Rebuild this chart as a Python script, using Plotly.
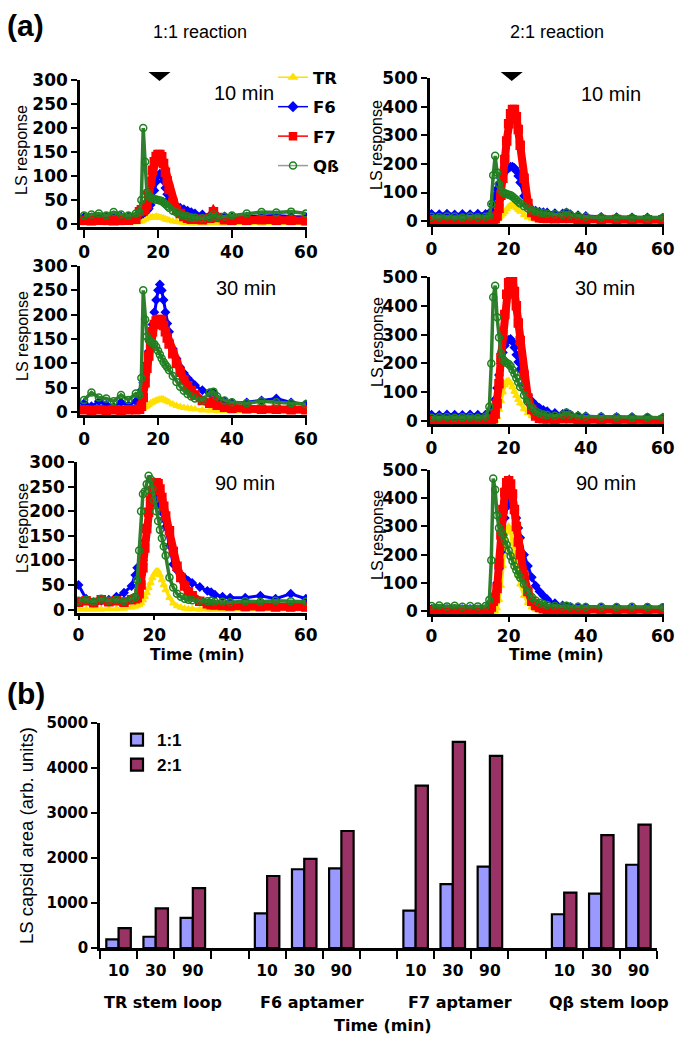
import plotly.graph_objects as go

W, H = 684, 1050

# elution time grid (min), shared by all chromatograms
T = [0, 2, 4, 6, 8, 10, 12, 14, 15, 15.5, 16, 16.5, 17, 17.5, 18, 18.5, 19, 19.5,
     20, 20.5, 21, 21.5, 22, 22.5, 23, 24, 25, 26, 27, 28, 29, 30, 32, 34, 35, 36,
     38, 40, 44, 48, 52, 56, 60]

# 1:1 reaction, 10 min
tr_11_10 = [2, 2, 3, 2, 3, 2, 3, 4, 5, 6, 8, 10, 12, 13, 14, 15, 14, 16, 15, 14, 13, 12, 10, 9, 8,
            6, 5, 4, 3, 3, 2, 2, 2, 2, 3, 2, 2, 2, 2, 2, 2, 2, 2]
f6_11_10 = [15, 14, 16, 15, 14, 16, 15, 17, 18, 20, 22, 25, 28, 32, 40, 55, 70, 88, 100, 105, 100, 90, 75, 62, 52,
            42, 38, 34, 31, 28, 25, 22, 20, 18, 22, 17, 16, 15, 16, 17, 18, 16, 15]
f7_11_10 = [8, 7, 8, 8, 7, 8, 8, 10, 26, 30, 28, 32, 40, 62, 88, 112, 130, 141, 145, 145, 140, 126, 108, 90, 72,
            45, 30, 22, 16, 12, 10, 10, 9, 12, 26, 14, 9, 8, 8, 9, 8, 8, 7]
qb_11_10 = [18, 20, 22, 18, 25, 20, 18, 22, 25, 50, 200, 130, 66, 58, 56, 54, 52, 51, 50, 49, 48, 45, 42, 38, 34,
            28, 24, 20, 18, 16, 14, 13, 12, 14, 20, 15, 16, 18, 22, 25, 24, 26, 22]

# 2:1 reaction, 10 min
tr_21_10 = [0, 0, 0, 0, 0, 0, 0, 0, 0, 0, 1, 3, 8, 12, 18, 25, 32, 42, 50, 55, 56, 52, 46, 40, 34,
            22, 14, 9, 6, 4, 3, 2, 1, 1, 2, 1, 1, 1, 0, 0, 0, 0, 0]
f6_21_10 = [25, 24, 26, 23, 25, 24, 26, 25, 28, 35, 60, 90, 112, 130, 150, 162, 172, 180, 186, 190, 190, 186, 175, 158, 135,
            88, 55, 42, 36, 33, 31, 30, 28, 27, 30, 24, 21, 18, 15, 14, 13, 13, 12]
f7_21_10 = [5, 4, 5, 4, 5, 4, 5, 4, 4, 4, 5, 8, 18, 45, 90, 150, 215, 280, 340, 375, 390, 390, 365, 320, 265,
            150, 62, 30, 18, 12, 10, 9, 8, 9, 16, 9, 7, 6, 6, 6, 5, 5, 5]
qb_21_10 = [15, 14, 16, 15, 13, 16, 14, 15, 18, 60, 160, 228, 170, 130, 108, 100, 97, 95, 92, 90, 86, 80, 74, 68, 62,
            52, 44, 38, 34, 30, 28, 26, 24, 22, 30, 22, 18, 15, 13, 12, 12, 11, 12]

# 1:1 reaction, 30 min
tr_11_30 = [1, 2, 1, 2, 1, 2, 2, 3, 5, 6, 8, 10, 12, 15, 18, 20, 22, 24, 25, 26, 27, 26, 24, 22, 20,
            16, 13, 11, 9, 8, 7, 6, 4, 3, 5, 2, 2, 1, 1, 1, 1, 1, 1]
f6_11_30 = [18, 12, 22, 15, 10, 20, 14, 22, 30, 45, 60, 80, 100, 125, 150, 180, 205, 230, 250, 262, 250, 230, 205, 182, 165,
            130, 110, 92, 80, 70, 62, 55, 45, 38, 40, 28, 22, 18, 20, 24, 28, 20, 16]
f7_11_30 = [5, 4, 5, 4, 5, 4, 5, 5, 6, 12, 30, 60, 90, 115, 140, 165, 180, 187, 190, 190, 188, 178, 165, 152, 140,
            120, 100, 82, 66, 54, 44, 35, 24, 18, 22, 14, 10, 8, 7, 6, 6, 5, 5]
qb_11_30 = [25, 40, 30, 28, 22, 35, 25, 38, 35, 70, 250, 190, 155, 148, 145, 142, 140, 134, 126, 118, 110, 103, 97, 92, 86,
            74, 62, 52, 44, 37, 32, 28, 24, 40, 42, 32, 24, 20, 18, 22, 20, 18, 16]

# 2:1 reaction, 30 min
tr_21_30 = [0, 0, 0, 0, 0, 0, 0, 0, 0, 0, 0, 2, 15, 40, 70, 100, 125, 138, 140, 132, 118, 102, 88, 74, 62,
            42, 28, 18, 12, 8, 5, 4, 2, 1, 2, 1, 0, 0, 0, 0, 0, 0, 0]
f6_21_30 = [22, 21, 23, 22, 21, 23, 22, 22, 24, 30, 45, 75, 115, 160, 200, 238, 262, 276, 282, 285, 275, 255, 230, 205, 180,
            130, 90, 70, 56, 46, 39, 34, 28, 25, 28, 22, 19, 17, 15, 14, 14, 13, 12]
f7_21_30 = [3, 3, 3, 3, 3, 3, 3, 3, 3, 4, 8, 25, 60, 130, 220, 300, 370, 440, 480, 495, 490, 450, 400, 340, 280,
            160, 80, 40, 18, 10, 8, 7, 6, 8, 16, 8, 5, 5, 5, 5, 4, 4, 4]
qb_21_30 = [12, 13, 14, 12, 13, 14, 12, 15, 50, 200, 430, 470, 360, 290, 235, 215, 208, 202, 198, 190, 178, 165, 150, 135, 118,
            90, 66, 48, 34, 27, 23, 21, 19, 22, 30, 22, 18, 16, 15, 14, 13, 13, 12]

# 1:1 reaction, 90 min
tr_11_90 = [0, 0, 0, 0, 1, 1, 2, 4, 6, 8, 10, 13, 19, 26, 34, 44, 54, 64, 72, 78, 78, 70, 60, 50, 40,
            24, 13, 7, 4, 2, 1, 1, 0, 0, 0, 0, 0, 0, 0, 0, 0, 0, 0]
f6_11_90 = [50, 22, 15, 18, 20, 26, 34, 48, 70, 85, 75, 70, 100, 140, 170, 195, 212, 222, 228, 230, 224, 212, 198, 184, 168,
            130, 92, 80, 72, 64, 58, 54, 46, 38, 35, 30, 26, 24, 24, 28, 22, 32, 22]
f7_11_90 = [15, 18, 14, 20, 16, 18, 15, 20, 22, 24, 32, 50, 85, 125, 165, 198, 222, 242, 254, 258, 256, 245, 228, 210, 190,
            160, 118, 88, 65, 48, 36, 28, 17, 12, 10, 9, 8, 7, 6, 6, 5, 5, 5]
qb_11_90 = [18, 20, 16, 22, 18, 20, 17, 22, 25, 60, 120, 200, 235, 240, 255, 272, 265, 245, 222, 200, 180, 162, 145, 128, 110,
            65, 45, 32, 26, 22, 20, 19, 18, 17, 18, 16, 16, 15, 17, 16, 18, 17, 16]

# 2:1 reaction, 90 min
tr_21_90 = [0, 0, 0, 0, 0, 0, 0, 0, 0, 0, 0, 0, 10, 40, 90, 160, 230, 280, 300, 280, 240, 200, 160, 125, 95,
            55, 30, 14, 7, 3, 2, 1, 0, 0, 0, 0, 0, 0, 0, 0, 0, 0, 0]
f6_21_90 = [8, 7, 8, 6, 7, 8, 6, 7, 8, 15, 30, 60, 100, 150, 210, 270, 330, 370, 390, 395, 385, 360, 330, 295, 260,
            200, 160, 120, 90, 70, 55, 42, 28, 20, 17, 15, 14, 13, 12, 12, 11, 12, 11]
f7_21_90 = [3, 3, 3, 3, 3, 3, 3, 3, 5, 15, 35, 45, 80, 170, 270, 360, 420, 455, 462, 450, 415, 360, 300, 245, 200,
            125, 70, 35, 20, 13, 9, 7, 6, 5, 5, 5, 5, 5, 5, 5, 5, 5, 5]
qb_21_90 = [18, 20, 17, 19, 16, 18, 17, 18, 40, 180, 470, 430, 340, 295, 280, 270, 250, 235, 215, 195, 178, 160, 145, 130, 118,
            95, 70, 50, 38, 30, 25, 22, 18, 17, 19, 16, 16, 15, 16, 15, 16, 15, 14]

# capsid peak markers (elution time of the capsid peak, min)
peak_t_11 = 20.4
peak_t_21 = 20.8

# panel (b): LS capsid area
groups = ["TR stem loop", "F6 aptamer", "F7 aptamer", "Qβ stem loop"]
times = ["10", "30", "90"]
area_11 = [190, 250, 670, 770, 1750, 1770, 830, 1420, 1810, 750, 1210, 1850]
area_21 = [440, 880, 1330, 1600, 1980, 2600, 3610, 4580, 4270, 1230, 2510, 2740]


def px(x):
    return x / W


def py(y):
    return 1 - y / H


BOLD = "DejaVu Sans"
SANS = "Liberation Sans"

panels = [
    (tr_11_10, f6_11_10, f7_11_10, qb_11_10),
    (tr_21_10, f6_21_10, f7_21_10, qb_21_10),
    (tr_11_30, f6_11_30, f7_11_30, qb_11_30),
    (tr_21_30, f6_21_30, f7_21_30, qb_21_30),
    (tr_11_90, f6_11_90, f7_11_90, qb_11_90),
    (tr_21_90, f6_21_90, f7_21_90, qb_21_90),
]
notes = ["10 min", "10 min", "30 min", "30 min", "90 min", "90 min"]

# x domain px, x range, y domain px (top, bottom), y range, dtick, note position px,
# y-title position px, x tick length
geo = [
    ((80, 307), [-1.1, 60.3], (80, 227), [-6, 300], 50, (244, 93), (22, 150), 8),
    ((430, 664), [-0.4, 60.3], (78, 224), [-10, 500], 100, (611, 94), (377, 145), 8),
    ((80, 307), [-1.1, 60.3], (266, 415), [-6, 300], 50, (246, 288), (22, 336), 7),
    ((430, 664), [-0.4, 60.3], (277, 424), [-10, 500], 100, (605, 288), (377, 342), 7),
    ((77, 307), [-0.4, 60.3], (462, 612.5), [-6, 300], 50, (245, 483), (22, 528), 5),
    ((430, 664), [-0.4, 60.3], (470, 614), [-10, 500], 100, (606, 483), (377, 535), 5),
]

series = [
    dict(name="TR", color="#FFE000", line="#FFE000", symbol="triangle-up", size=6, width=3.5),
    dict(name="F6", color="#0000FF", line="#0000FF", symbol="diamond", size=6, width=3),
    dict(name="F7", color="#FF0000", line="#FF0000", symbol="square", size=8, width=8),
    dict(name="Qß", color="#1E801E", line="#2F7F2F", symbol="circle-open", size=7, width=3.5),
]

fig = go.Figure()
layout = dict(
    width=W, height=H, template="none",
    margin=dict(l=0, r=0, t=0, b=0),
    paper_bgcolor="white", plot_bgcolor="rgba(0,0,0,0)",
    font=dict(family=SANS, color="black"),
    bargap=0.34, bargroupgap=0,
)
annotations = []
shapes = []

for i, (data, g) in enumerate(zip(panels, geo)):
    n = i + 1
    xs = "" if n == 1 else str(n)
    (x0, x1), xr, (ytop, ybot), yr, dt, (nx, ny), (tx, ty), tl = g
    for s, vals in zip(series, data):
        fig.add_trace(go.Scatter(
            x=T, y=vals, mode="lines+markers", showlegend=False,
            line=dict(color=s["line"], width=s["width"]),
            marker=dict(symbol=s["symbol"], size=s["size"], color=s["color"],
                        line=dict(color=s["color"], width=1.5)),
            xaxis="x" + xs, yaxis="y" + xs))
    layout["xaxis" + xs] = dict(
        domain=[px(x0), px(x1)], range=xr, anchor="y" + xs,
        tickmode="array", tickvals=[0, 20, 40, 60],
        ticks="outside", ticklen=tl, tickwidth=2, tickcolor="black",
        showline=True, linecolor="black", linewidth=2.5, layer="below traces",
        showgrid=False, zeroline=False, automargin=False,
        tickfont=dict(family=BOLD, size=17, weight="bold"),
    )
    layout["yaxis" + xs] = dict(
        domain=[py(ybot), py(ytop)], range=yr, anchor="x" + xs,
        tick0=0, dtick=dt, ticks="outside", ticklen=6, tickwidth=2, tickcolor="black",
        showline=True, linecolor="black", linewidth=2.5,
        showgrid=False, zeroline=False, automargin=False,
        tickfont=dict(family=BOLD, size=17, weight="bold"),
    )
    annotations.append(dict(text=notes[i], x=px(nx), y=py(ny), font=dict(family=SANS, size=20)))
    annotations.append(dict(text="LS response", x=px(tx), y=py(ty), textangle=-90,
                            font=dict(family=SANS, size=16)))

# x-axis titles of the bottom row
for cx in (197, 556):
    annotations.append(dict(text="Time (min)", x=px(cx), y=py(655),
                            font=dict(family=BOLD, size=15.5, weight="bold")))

# capsid peak markers above the top panels (pixel-sized flat triangles)
for t, xr_ in ((peak_t_11, "x"), (peak_t_21, "x2")):
    shapes.append(dict(type="path", xref=xr_, yref="paper", xsizemode="pixel", ysizemode="pixel",
                       xanchor=t, yanchor=py(76), path="M-11,4 L11,4 L0,-5 Z",
                       fillcolor="black", line=dict(width=0)))

# legend entries for panel (a)
for s in series:
    fig.add_trace(go.Scatter(
        x=[None], y=[None], mode="lines+markers", name=s["name"],
        legend="legend", legendgroup=s["name"],
        line=dict(color="#9A9A9A" if s["name"] == "Qß" else s["color"], width=1.5),
        marker=dict(symbol=s["symbol"], size=7, color=s["color"],
                    line=dict(color=s["color"], width=1.5)),
        xaxis="x", yaxis="y"))

# panel (b): grouped bars
slots = [g * 4 + k for g in range(len(groups)) for k in range(len(times))]
fig.add_trace(go.Bar(x=slots, y=area_11, name="1:1", legend="legend2",
                     marker=dict(color="#9999FF", line=dict(color="black", width=2.2)),
                     xaxis="x7", yaxis="y7"))
fig.add_trace(go.Bar(x=slots, y=area_21, name="2:1", legend="legend2",
                     marker=dict(color="#993366", line=dict(color="black", width=2.2)),
                     xaxis="x7", yaxis="y7"))

nslots = len(groups) * 4 - 1
layout["xaxis7"] = dict(
    domain=[px(100), px(657)], range=[-0.5, nslots - 0.5], anchor="y7",
    tickmode="array", tickvals=slots, ticktext=times * len(groups),
    ticks="outside", ticklen=7, tickcolor="rgba(0,0,0,0)",
    minor=dict(tickmode="array", tickvals=[k - 0.5 for k in range(nslots + 1)],
               ticks="outside", ticklen=8, tickwidth=2, tickcolor="black"),
    showline=True, linecolor="black", linewidth=2.5,
    showgrid=False, zeroline=False, automargin=False,
    tickfont=dict(family=BOLD, size=15.5, weight="bold"),
)
layout["yaxis7"] = dict(
    domain=[py(948), py(723)], range=[0, 5000], anchor="x7",
    tick0=0, dtick=1000, ticks="outside", ticklen=6, tickwidth=2, tickcolor="black",
    showline=True, linecolor="black", linewidth=2.5,
    showgrid=False, zeroline=False, automargin=False,
    tickfont=dict(family=BOLD, size=15, weight="bold"),
)

for g, name in enumerate(groups):
    annotations.append(dict(text=name, x=g * 4 + 1.2, y=py(1002), xref="x7",
                            font=dict(family=BOLD, size=16, weight="bold")))

annotations += [
    dict(text="LS capsid area (arb. units)", x=px(26), y=py(836), textangle=-90,
         font=dict(family=SANS, size=18.5)),
    dict(text="Time (min)", x=px(383), y=py(1025), font=dict(family=BOLD, size=16, weight="bold")),
    dict(text="(a)", x=px(5), y=py(25), xanchor="left", font=dict(family=SANS, size=30, weight="bold")),
    dict(text="(b)", x=px(5), y=py(693), xanchor="left", font=dict(family=SANS, size=30, weight="bold")),
    dict(text="1:1 reaction", x=px(200), y=py(32), font=dict(family=SANS, size=18)),
    dict(text="2:1 reaction", x=px(557), y=py(32), font=dict(family=SANS, size=18)),
]
for a in annotations:
    a.setdefault("xref", "paper")
    a.setdefault("yref", "paper")
    a.setdefault("xanchor", "center")
    a.update(yanchor="middle", showarrow=False)
layout["annotations"] = annotations
layout["shapes"] = shapes

layout["legend"] = dict(x=px(273), y=py(60), xanchor="left", yanchor="top",
                        bgcolor="rgba(0,0,0,0)", tracegroupgap=5, itemwidth=30,
                        font=dict(family=BOLD, size=16.5, weight="bold"))
layout["legend2"] = dict(x=px(117), y=py(722), xanchor="left", yanchor="top",
                         bgcolor="rgba(0,0,0,0)", tracegroupgap=0,
                         font=dict(family=SANS, size=17, weight="bold"))

fig.update_layout(**layout)
fig.write_html("out.html", config={"displayModeBar": False},
               post_script="document.body.style.margin='0';")
